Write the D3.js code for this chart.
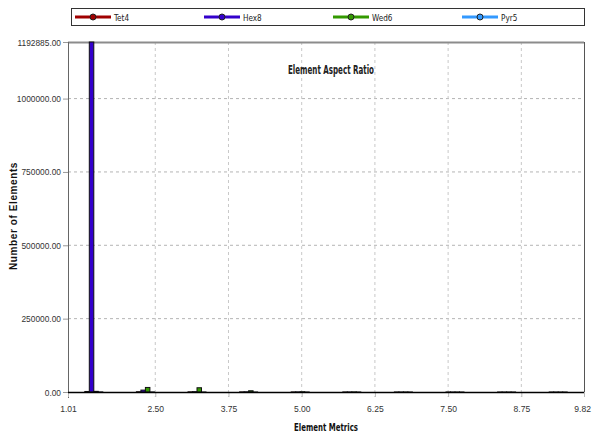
<!DOCTYPE html>
<html>
<head>
<meta charset="utf-8">
<script src="https://cdn.jsdelivr.net/npm/d3@7"></script>
<style>
  html, body { margin: 0; padding: 0; background: #fff; }
  svg { display: block; font-family: "DejaVu Sans Condensed", "DejaVu Sans", sans-serif; font-stretch: condensed; }
</style>
</head>
<body>
<svg id="chart" width="592" height="436"></svg>
<script>
// Histogram of element aspect ratio, one bar per element type in each bin
const binEdges = [1.01, 1.891, 2.772, 3.653, 4.534, 5.415, 6.296, 7.177, 8.058, 8.939, 9.82];
const seriesNames = ["Tet4", "Hex8", "Wed6", "Pyr5"];
const seriesColors = ["#a00000", "#3300cc", "#339900", "#3399ff"];
const tet4 = [1800, 900, 600, 400, 300, 200, 150, 100, 80, 60];
const hex8 = [1192885, 6500, 1200, 700, 400, 250, 150, 100, 60, 40];
const wed6 = [2200, 15500, 14500, 4200, 900, 400, 200, 120, 70, 40];
const pyr5 = [300, 200, 150, 100, 80, 60, 40, 30, 20, 10];
const xTicks = [1.01, 2.50, 3.75, 5.00, 6.25, 7.50, 8.75, 9.82];
const yTicks = [0, 250000, 500000, 750000, 1000000, 1192885];
const chartTitle = "Element Aspect Ratio";
const xTitle = "Element Metrics";
const yTitle = "Number of Elements";

const series = [tet4, hex8, wed6, pyr5];
const svg = d3.select("#chart");
const m = { left: 68, right: 584, top: 42, bottom: 392 };

// narrow the glyph run of a text element to a share of its natural width
function narrow(sel, k) {
  sel.each(function () {
    const w = this.getComputedTextLength();
    d3.select(this).attr("textLength", w * k).attr("lengthAdjust", "spacingAndGlyphs");
  });
}

const x = d3.scaleLinear().domain([binEdges[0], binEdges[binEdges.length - 1]]).range([m.left, m.right]);
const y = d3.scaleLinear().domain([0, 1192885]).range([m.bottom, m.top]);

// dashed grid
svg.append("g").selectAll("line").data(yTicks.filter(d => d > 0 && d < 1192885)).join("line")
  .attr("x1", m.left).attr("x2", m.right).attr("y1", d => y(d)).attr("y2", d => y(d))
  .attr("stroke", "#b4b4b4").attr("stroke-dasharray", "3,3").attr("stroke-width", 1);
svg.append("g").selectAll("line").data(xTicks.slice(1, -1)).join("line")
  .attr("x1", d => x(d)).attr("x2", d => x(d)).attr("y1", m.top).attr("y2", m.bottom + 5)
  .attr("stroke", "#c8c8c8").attr("stroke-dasharray", "3,3").attr("stroke-width", 1);

// frame
svg.append("line").attr("x1", m.left).attr("x2", m.right).attr("y1", m.top + 0.5).attr("y2", m.top + 0.5)
  .attr("stroke", "#8c8c8c").attr("stroke-width", 2);
svg.append("line").attr("x1", m.right + 0.5).attr("x2", m.right + 0.5).attr("y1", m.top).attr("y2", m.bottom + 5)
  .attr("stroke", "#555").attr("stroke-width", 1);

// bars
const groupW = 18;
const barW = groupW / series.length;
const bars = svg.append("g");
series.forEach((vals, si) => {
  bars.selectAll(null).data(vals).join("rect")
    .attr("x", (d, i) => x((binEdges[i] + binEdges[i + 1]) / 2) - groupW / 2 + si * barW)
    .attr("width", barW)
    .attr("y", d => y(d))
    .attr("height", d => Math.max(0, m.bottom - y(d)))
    .attr("fill", seriesColors[si])
    .attr("stroke", "#111")
    .attr("stroke-width", 1);
});

// axes
const fmt = d3.format(".2f");
const yAxis = svg.append("g").attr("transform", `translate(${m.left},0)`)
  .call(d3.axisLeft(y).tickValues(yTicks).tickFormat(fmt).tickSize(5).tickPadding(2));
yAxis.select(".domain").remove();
yAxis.selectAll(".tick line").attr("stroke", "#999");
yAxis.selectAll("text").attr("font-size", 9.5).attr("fill", "#333").call(narrow, 0.88);
svg.append("line").attr("x1", m.left + 0.5).attr("x2", m.left + 0.5).attr("y1", m.top).attr("y2", m.bottom + 6)
  .attr("stroke", "#666").attr("stroke-width", 1);

const xAxis = svg.append("g").attr("transform", `translate(0,${m.bottom})`)
  .call(d3.axisBottom(x).tickValues(xTicks).tickFormat(fmt).tickSize(5).tickPadding(8));
xAxis.select(".domain").remove();
xAxis.selectAll(".tick line").attr("stroke", "#bbb");
xAxis.selectAll("text").attr("font-size", 9.5).attr("fill", "#333").call(narrow, 0.9);
// keep the last label inside the page
xAxis.selectAll(".tick text").filter(d => d === xTicks[xTicks.length - 1])
  .attr("text-anchor", "end").attr("x", 6.5);
svg.append("line").attr("x1", m.left).attr("x2", m.right).attr("y1", m.bottom + 0.5).attr("y2", m.bottom + 0.5)
  .attr("stroke", "#000").attr("stroke-width", 1.5);

// titles
svg.append("text").attr("x", 331).attr("y", 74).attr("text-anchor", "middle")
  .attr("font-size", 12).attr("font-weight", "bold").attr("fill", "#222").text(chartTitle)
  .attr("textLength", 86).attr("lengthAdjust", "spacingAndGlyphs");
svg.append("text").attr("x", 326).attr("y", 431).attr("text-anchor", "middle")
  .attr("font-size", 10.5).attr("font-weight", "bold").attr("fill", "#111").text(xTitle)
  .attr("textLength", 64).attr("lengthAdjust", "spacingAndGlyphs");
svg.append("text").attr("transform", "translate(17,216) rotate(-90)").attr("text-anchor", "middle")
  .attr("font-family", "'Liberation Sans', Arial, sans-serif").attr("letter-spacing", "0.6")
  .attr("font-size", 10).attr("font-weight", "bold").attr("fill", "#111").text(yTitle);

// legend
const lg = svg.append("g");
lg.append("rect").attr("x", 71.5).attr("y", 8.5).attr("width", 513).attr("height", 17)
  .attr("fill", "#fff").attr("stroke", "#333").attr("stroke-width", 1);
const items = lg.selectAll("g").data(seriesNames).join("g")
  .attr("transform", (d, i) => `translate(${75 + i * 129},17)`);
items.append("line").attr("x1", 0).attr("x2", 36).attr("y1", 0).attr("y2", 0)
  .attr("stroke", (d, i) => seriesColors[i]).attr("stroke-width", 3);
items.append("circle").attr("cx", 18).attr("cy", 0).attr("r", 3)
  .attr("fill", (d, i) => seriesColors[i]).attr("stroke", "#222").attr("stroke-width", 1);
items.append("text").attr("x", 39).attr("y", 4).attr("font-size", 9.5).attr("fill", "#222").text(d => d)
  .call(narrow, 0.85);
</script>
</body>
</html>
